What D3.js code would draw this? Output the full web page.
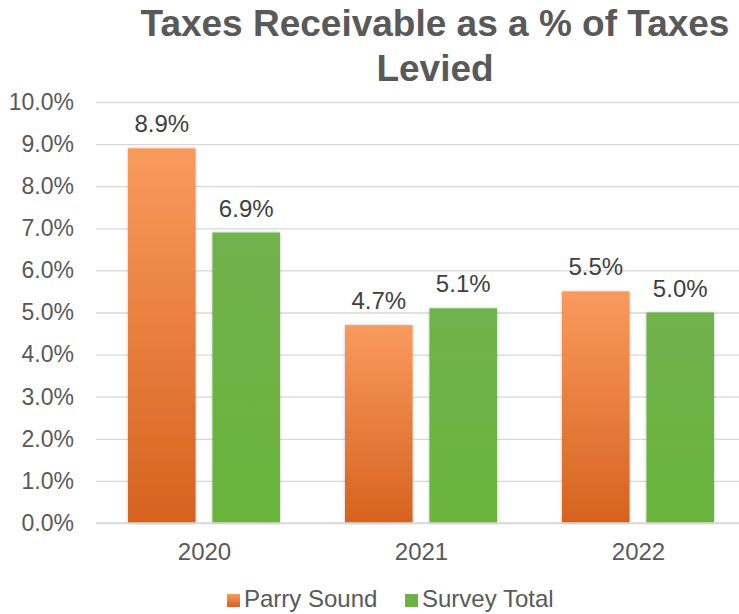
<!DOCTYPE html>
<html>
<head>
<meta charset="utf-8">
<script src="https://cdn.jsdelivr.net/npm/d3@7"></script>
<style>
  html, body { margin: 0; padding: 0; background: #fff; }
  svg { display: block; }
</style>
</head>
<body>
<svg id="chart" width="739" height="614"></svg>
<script>
// Chart data
const years = ["2020", "2021", "2022"];
const seriesNames = ["Parry Sound", "Survey Total"];
const parrySound = [8.9, 4.7, 5.5];
const surveyTotal = [6.9, 5.1, 5.0];
const yTicks = [0, 1, 2, 3, 4, 5, 6, 7, 8, 9, 10];
const titleLines = ["Taxes Receivable as a % of Taxes", "Levied"];

const svg = d3.select("#chart");
const font = "'Liberation Sans', Arial, sans-serif";
const textColor = "#595959";

const margin = { left: 96, right: -8, top: 102, bottom: 91 };
const width = 739, height = 614;
const innerW = width - margin.left - margin.right;
const innerH = height - margin.top - margin.bottom;

// Gradients for the bars
const defs = svg.append("defs");
const gOrange = defs.append("linearGradient").attr("id", "gradOrange")
  .attr("x1", 0).attr("y1", 0).attr("x2", 0).attr("y2", 1);
gOrange.append("stop").attr("offset", "0%").attr("stop-color", "#F99A5D");
gOrange.append("stop").attr("offset", "100%").attr("stop-color", "#D6621E");
const gGreen = defs.append("linearGradient").attr("id", "gradGreen")
  .attr("x1", 0).attr("y1", 0).attr("x2", 0).attr("y2", 1);
gGreen.append("stop").attr("offset", "0%").attr("stop-color", "#70B24C");
gGreen.append("stop").attr("offset", "100%").attr("stop-color", "#6AB43B");
const shadow = defs.append("filter").attr("id", "soft")
  .attr("x", "-20%").attr("y", "-10%").attr("width", "140%").attr("height", "120%");
shadow.append("feDropShadow").attr("dx", 0).attr("dy", 0).attr("stdDeviation", 1.6)
  .attr("flood-color", "#000").attr("flood-opacity", 0.25);

// Title
svg.append("g").selectAll("text").data(titleLines).join("text")
  .attr("x", 435).attr("y", (d, i) => 36 + i * 45)
  .attr("text-anchor", "middle")
  .attr("font-family", font).attr("font-weight", "bold").attr("font-size", 37)
  .attr("fill", textColor).text(d => d);

const g = svg.append("g").attr("transform", `translate(${margin.left},${margin.top})`);

const x0 = d3.scaleBand().domain(years).range([0, innerW]).paddingInner(0).paddingOuter(0);
const x1 = d3.scaleBand().domain(seriesNames).range([32, x0.bandwidth() - 33]).paddingInner(0.2);
const y = d3.scaleLinear().domain([0, 10]).range([innerH, 0]);

// Gridlines and y axis labels
const yAxis = d3.axisLeft(y).tickValues(yTicks).tickSize(-(width - margin.left)).tickPadding(22)
  .tickFormat(d => d.toFixed(1) + "%");
const ya = g.append("g").call(yAxis);
ya.select(".domain").remove();
ya.selectAll(".tick line").attr("stroke", "#d9d9d9").attr("stroke-width", 1.3);
ya.selectAll(".tick text").attr("font-family", font).attr("font-size", 23).attr("fill", textColor);

// X axis labels
const xAxis = d3.axisBottom(x0).tickSize(0).tickPadding(20);
const xa = g.append("g").attr("transform", `translate(0,${innerH})`).call(xAxis);
xa.select(".domain").remove();
xa.selectAll(".tick text").attr("font-family", font).attr("font-size", 24).attr("fill", textColor);

// Bars
const rows = years.map((yr, i) => ({ year: yr, values: [
  { name: seriesNames[0], v: parrySound[i], fill: "url(#gradOrange)" },
  { name: seriesNames[1], v: surveyTotal[i], fill: "url(#gradGreen)" }
]}));

const groups = g.selectAll(".grp").data(rows).join("g")
  .attr("transform", d => `translate(${x0(d.year)},0)`);

groups.selectAll("rect").data(d => d.values).join("rect")
  .attr("x", d => x1(d.name)).attr("width", x1.bandwidth())
  .attr("y", d => y(d.v)).attr("height", d => y(0) - y(d.v))
  .attr("fill", d => d.fill).attr("filter", "url(#soft)");

groups.selectAll("text.val").data(d => d.values).join("text").attr("class", "val")
  .attr("x", d => x1(d.name) + x1.bandwidth() / 2)
  .attr("y", d => y(d.v) - 16)
  .attr("text-anchor", "middle")
  .attr("font-family", font).attr("font-size", 24).attr("fill", "#404040")
  .text(d => d.v.toFixed(1) + "%");

// Baseline
g.append("line").attr("x1", 0).attr("x2", width - margin.left)
  .attr("y1", y(0)).attr("y2", y(0)).attr("stroke", "#d9d9d9").attr("stroke-width", 1.5);

// Legend
const legend = svg.append("g").attr("transform", "translate(0,607)");
const legendItems = [
  { name: seriesNames[0], fill: "url(#gradOrange)", x: 227 },
  { name: seriesNames[1], fill: "url(#gradGreen)", x: 405 }
];
const li = legend.selectAll("g").data(legendItems).join("g")
  .attr("transform", d => `translate(${d.x},0)`);
li.append("rect").attr("x", 0).attr("y", -13).attr("width", 13).attr("height", 13).attr("fill", d => d.fill);
li.append("text").attr("x", 17).attr("y", 0)
  .attr("font-family", font).attr("font-size", 24).attr("fill", textColor).text(d => d.name);
</script>
</body>
</html>
